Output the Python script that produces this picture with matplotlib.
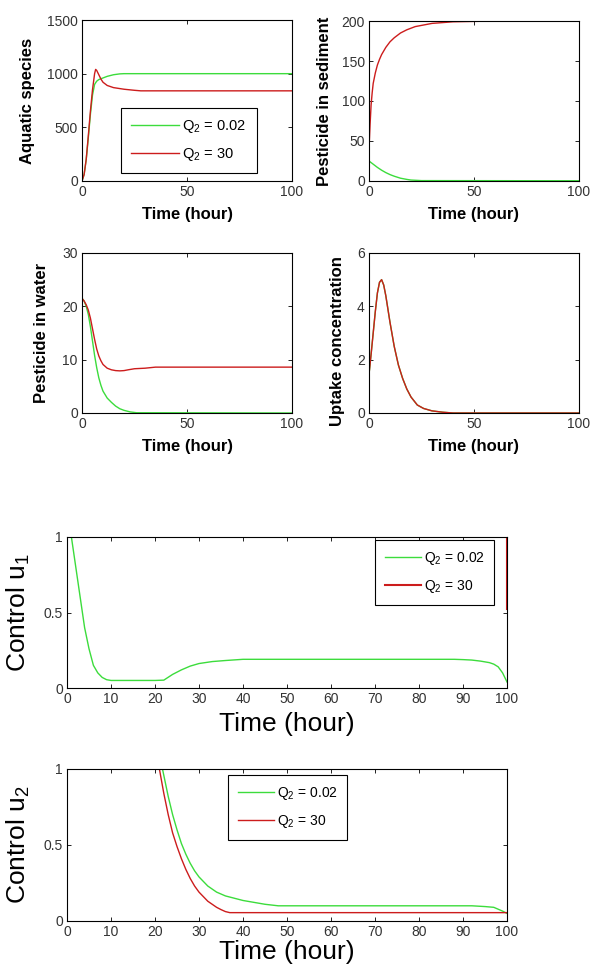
import matplotlib
matplotlib.use('Agg')
import matplotlib.pyplot as plt
from matplotlib.ticker import FormatStrFormatter

plt.rcParams['font.family'] = ['Liberation Sans', 'DejaVu Sans']
plt.rcParams['mathtext.fontset'] = 'custom'
plt.rcParams['mathtext.rm'] = 'Liberation Sans'
plt.rcParams['mathtext.it'] = 'Liberation Sans'

# --- Data ---
labels = [r'Q$_2$ = 0.02', r'Q$_2$ = 30']
green = '#3cdc3c'
red = '#cc1c1c'

# Aquatic species
t_aq_g = [0, 1, 2, 3, 4, 5, 6, 7, 8, 10, 12, 15, 18, 20, 25, 100]
aq_g = [0, 60, 200, 400, 620, 800, 900, 930, 945, 960, 975, 990, 998, 1000, 1000, 1000]
t_aq_r = [0, 1, 2, 3, 4, 5, 6, 6.5, 7, 8, 9, 10, 12, 15, 20, 25, 28, 100]
aq_r = [0, 60, 200, 420, 650, 850, 1000, 1040, 1030, 990, 950, 920, 890, 870, 855, 845, 840, 840]

# Pesticide in sediment
t_sed_g = [0, 2, 4, 6, 8, 10, 12, 15, 18, 20, 25, 100]
sed_g = [25, 21, 17, 13.5, 10.5, 8, 6, 3.5, 2, 1.2, 0.5, 0.3]
t_sed_r = [0, 0.5, 1, 1.5, 2, 3, 4, 5, 6, 8, 10, 12, 15, 18, 22, 26, 30, 35, 40, 50, 60, 100]
sed_r = [40, 70, 95, 110, 122, 135, 145, 152, 158, 167, 174, 179, 185, 189, 193, 195, 197, 198, 199, 199.5, 200, 200]

# Pesticide in water
t_w_g = [0, 1, 2, 3, 4, 5, 6, 7, 8, 9, 10, 12, 14, 16, 18, 20, 23, 26, 100]
w_g = [21.5, 21, 20, 18.5, 16.2, 13.5, 10.8, 8.5, 6.6, 5.2, 4.1, 2.8, 2.0, 1.3, 0.8, 0.5, 0.2, 0.05, 0]
t_w_r = [0, 1, 2, 3, 4, 5, 6, 7, 8, 9, 10, 12, 14, 16, 18, 20, 22, 25, 30, 35, 40, 100]
w_r = [21.5, 21, 20.3, 19.3, 17.8, 15.8, 13.8, 12, 10.7, 9.8, 9.1, 8.4, 8.1, 7.95, 7.9, 7.95, 8.1, 8.3, 8.4, 8.6, 8.6, 8.6]

# Uptake concentration (both cases overlap)
t_up = [0, 1, 2, 3, 4, 5, 6, 7, 8, 9, 10, 12, 14, 16, 18, 20, 23, 26, 30, 35, 40, 100]
up = [1.45, 2.2, 3.0, 3.8, 4.5, 4.9, 5.0, 4.8, 4.4, 3.9, 3.4, 2.5, 1.8, 1.3, 0.9, 0.6, 0.3, 0.17, 0.08, 0.03, 0, 0]

# Control u1
t_u1_g = [1, 2, 3, 4, 5, 6, 7, 8, 9, 10, 15, 20, 22, 24, 26, 28, 30, 33, 36, 40, 50, 60, 70, 80, 88, 90, 92, 94, 96, 97, 98, 99, 100]
u1_g = [1, 0.8, 0.6, 0.4, 0.26, 0.15, 0.1, 0.07, 0.055, 0.05, 0.05, 0.05, 0.052, 0.09, 0.12, 0.145, 0.162, 0.175, 0.182, 0.19,
        0.19, 0.19, 0.19, 0.19, 0.19, 0.188, 0.185, 0.178, 0.168, 0.158, 0.14, 0.1, 0.04]
t_u1_r = [100, 100]
u1_r = [0.52, 1]

# Control u2
t_u2_g = [21.7, 23, 24, 25, 26, 27, 28, 29, 30, 32, 34, 36, 38, 40, 42, 45, 48, 60, 80, 92, 95, 97, 99, 100]
u2_g = [1, 0.82, 0.7, 0.6, 0.51, 0.44, 0.38, 0.33, 0.29, 0.23, 0.19, 0.165, 0.15, 0.135, 0.125, 0.11, 0.1, 0.1, 0.1, 0.1, 0.095, 0.09, 0.065, 0.05]
t_u2_r = [21, 22, 23, 24, 25, 26, 27, 28, 29, 30, 31, 32, 33, 34, 35, 36, 37, 100]
u2_r = [1, 0.84, 0.7, 0.58, 0.49, 0.41, 0.34, 0.28, 0.23, 0.19, 0.16, 0.13, 0.11, 0.09, 0.075, 0.062, 0.055, 0.055]

# --- Figure ---
W, H = 600, 976
fig = plt.figure(figsize=(W / 100, H / 100), dpi=100)


def box(l, t, r, b):
    return [l / W, 1 - b / H, (r - l) / W, (b - t) / H]


def style(ax, xt, yt, ylim, fs):
    ax.set_xlim(0, 100)
    ax.set_ylim(*ylim)
    ax.set_xticks(xt)
    ax.set_yticks(yt)
    ax.tick_params(direction='in', top=True, right=True, length=3, width=0.6,
                   labelsize=fs, labelcolor='#333333', pad=3)
    for s in ax.spines.values():
        s.set_linewidth(0.8)


def add_legend(ax, anchor, fs, hl, sp):
    leg = ax.legend(loc='upper left', bbox_to_anchor=anchor, fontsize=fs,
                    fancybox=False, edgecolor='black', framealpha=1, borderaxespad=0,
                    handlelength=hl, handletextpad=0.2, labelspacing=sp, borderpad=0.7)
    leg.get_frame().set_linewidth(0.8)


lw = 1.0
small_lbl = dict(fontsize=12, fontweight='bold')
big_lbl = dict(fontsize=19)

# Panel 1
ax1 = fig.add_axes(box(82, 20, 292, 181))
ax1.plot(t_aq_g, aq_g, color=green, lw=lw, label=labels[0])
ax1.plot(t_aq_r, aq_r, color=red, lw=lw, label=labels[1])
style(ax1, [0, 50, 100], [0, 500, 1000, 1500], (0, 1500), 10)
ax1.set_ylabel('Aquatic species', **small_lbl)
ax1.set_xlabel('Time (hour)', **small_lbl)
ax1.yaxis.set_label_coords(-0.224, 0.5)
ax1.xaxis.set_label_coords(0.5, -0.16)
add_legend(ax1, (0.186, 0.453), 10.5, 3.3, 0.75)

# Panel 2
ax2 = fig.add_axes(box(369, 21, 579, 181))
ax2.plot(t_sed_g, sed_g, color=green, lw=lw)
ax2.plot(t_sed_r, sed_r, color=red, lw=lw)
style(ax2, [0, 50, 100], [0, 50, 100, 150, 200], (0, 200), 10)
ax2.set_ylabel('Pesticide in sediment', **small_lbl)
ax2.set_xlabel('Time (hour)', **small_lbl)
ax2.yaxis.set_label_coords(-0.176, 0.5)
ax2.xaxis.set_label_coords(0.5, -0.16)

# Panel 3
ax3 = fig.add_axes(box(82, 253, 292, 413))
ax3.plot(t_w_g, w_g, color=green, lw=lw)
ax3.plot(t_w_r, w_r, color=red, lw=lw)
style(ax3, [0, 50, 100], [0, 10, 20, 30], (0, 30), 10)
ax3.set_ylabel('Pesticide in water', **small_lbl)
ax3.set_xlabel('Time (hour)', **small_lbl)
ax3.yaxis.set_label_coords(-0.157, 0.5)
ax3.xaxis.set_label_coords(0.5, -0.162)

# Panel 4
ax4 = fig.add_axes(box(369, 253, 579, 413))
ax4.plot(t_up, up, color=green, lw=lw)
ax4.plot(t_up, up, color=red, lw=lw)
style(ax4, [0, 50, 100], [0, 2, 4, 6], (0, 6), 10)
ax4.set_ylabel('Uptake concentration', **small_lbl)
ax4.set_xlabel('Time (hour)', **small_lbl)
ax4.yaxis.set_label_coords(-0.114, 0.45)
ax4.xaxis.set_label_coords(0.5, -0.162)

# Panel 5
ax5 = fig.add_axes(box(67, 537, 507, 688))
ax5.plot(t_u1_g, u1_g, color=green, lw=lw, label=labels[0])
ax5.plot(t_u1_r, u1_r, color=red, lw=lw + 0.5, label=labels[1])
style(ax5, range(0, 101, 10), [0, 0.5, 1], (0, 1), 10)
ax5.yaxis.set_major_formatter(FormatStrFormatter('%g'))
ax5.set_ylabel(r'Control u$_1$', **big_lbl)
ax5.set_xlabel('Time (hour)', **big_lbl)
ax5.yaxis.set_label_coords(-0.08, 0.5)
ax5.xaxis.set_label_coords(0.5, -0.159)
add_legend(ax5, (0.70, 0.98), 10, 2.6, 0.8)

# Panel 6
ax6 = fig.add_axes(box(67, 769, 507, 921))
ax6.plot(t_u2_g, u2_g, color=green, lw=lw, label=labels[0])
ax6.plot(t_u2_r, u2_r, color=red, lw=lw, label=labels[1])
style(ax6, range(0, 101, 10), [0, 0.5, 1], (0, 1), 10)
ax6.yaxis.set_major_formatter(FormatStrFormatter('%g'))
ax6.set_ylabel(r'Control u$_2$', **big_lbl)
ax6.set_xlabel('Time (hour)', **big_lbl)
ax6.yaxis.set_label_coords(-0.08, 0.5)
ax6.xaxis.set_label_coords(0.5, -0.125)
add_legend(ax6, (0.366, 0.96), 10, 2.6, 0.8)

fig.savefig('out.png', dpi=100, facecolor='white')
